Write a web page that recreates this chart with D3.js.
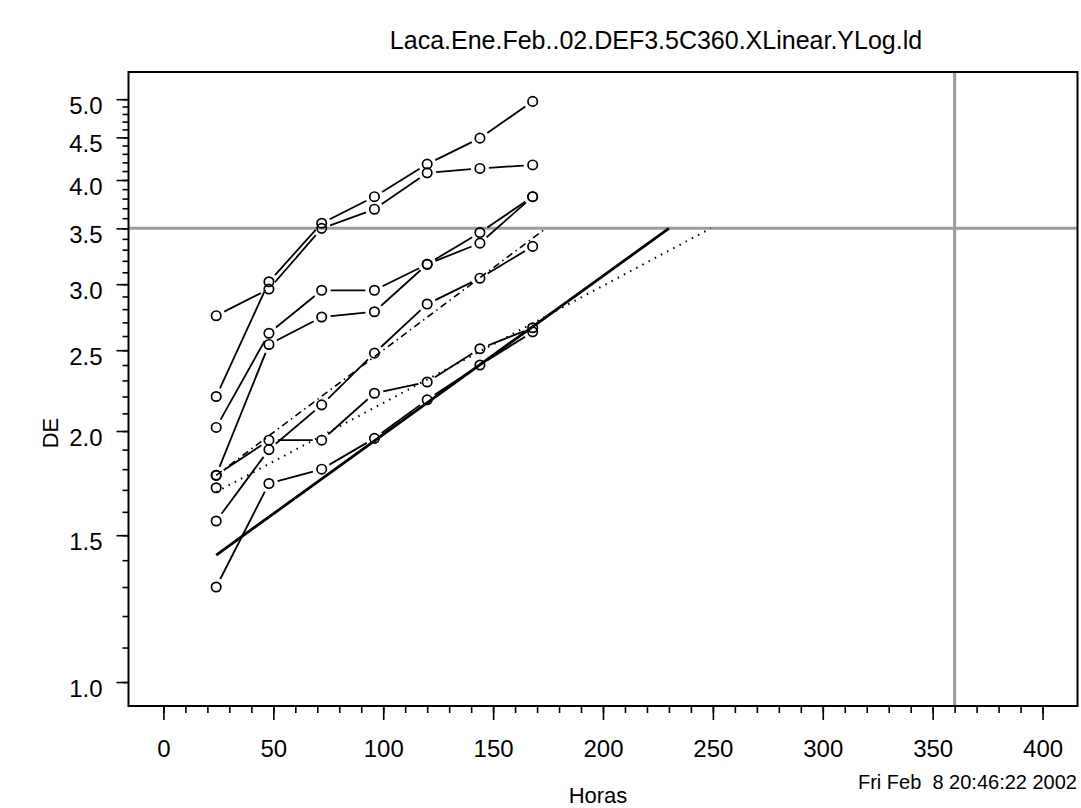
<!DOCTYPE html>
<html>
<head>
<meta charset="utf-8">
<script src="https://cdn.jsdelivr.net/npm/d3@7"></script>
<style>
  body { margin: 0; background: #fff; }
  svg { display: block; font-family: "Liberation Sans", Arial, sans-serif; }
</style>
</head>
<body>
<div id="chart"></div>
<script>
const hours = [24, 48, 72, 96, 120, 144, 168];
const serie1 = [2.20, 3.02, 3.55, 3.82, 4.18, 4.49, 4.97];
const serie2 = [2.75, 2.96, 3.50, 3.69, 4.08, 4.13, 4.17];
const serie3 = [2.02, 2.62, 2.95, 2.95, 3.17, 3.46, 3.82];
const serie4 = [1.77, 2.54, 2.74, 2.78, 3.17, 3.36, 3.82];
const serie5 = [1.56, 1.90, 2.15, 2.48, 2.84, 3.05, 3.33];
const serie6 = [1.77, 1.95, 1.95, 2.22, 2.29, 2.51, 2.66];
const serie7 = [1.30, 1.73, 1.80, 1.96, 2.18, 2.40, 2.63];
const series = [serie1, serie2, serie3, serie4, serie5, serie6, serie7];

// point with no line attached
const looseHours = [24];
const looseDE = [1.71];

// fitted lines, drawn up to the DE limit
const fitSolidHours = [24, 230];
const fitSolidDE = [1.42, 3.5];
const fitDottedHours = [24, 249];
const fitDottedDE = [1.69, 3.5];
const fitDashHours = [24, 174];
const fitDashDE = [1.77, 3.5];

const limitDE = 3.5;
const limitHours = 360;

const xMajor = d3.range(0, 401, 50);
const xMinor = d3.range(0, 401, 10);
const yMajor = [1.0, 1.5, 2.0, 2.5, 3.0, 3.5, 4.0, 4.5, 5.0];
const yMinor = d3.range(10, 51).map(v => v / 10);

const title = "Laca.Ene.Feb..02.DEF3.5C360.XLinear.YLog.ld";
const xTitle = "Horas";
const yTitle = "DE";
const stamp = "Fri Feb  8 20:46:22 2002";

const width = 1081, height = 808;
const plotLeft = 128.5, plotRight = 1077.5, plotTop = 72, plotBottom = 706;

const svg = d3.select("#chart").append("svg")
    .attr("width", width)
    .attr("height", height);

svg.append("rect").attr("width", width).attr("height", height).attr("fill", "#fff");

const x = d3.scaleLinear().domain([-15.9, 415.9]).range([plotLeft, plotRight]);
const y = d3.scaleLog().domain([0.936, 5.39]).range([plotBottom, plotTop]);

// reference lines
svg.append("line")
    .attr("x1", plotLeft).attr("x2", plotRight)
    .attr("y1", y(limitDE)).attr("y2", y(limitDE))
    .attr("stroke", "#9c9c9c").attr("stroke-width", 3);
svg.append("line")
    .attr("x1", x(limitHours)).attr("x2", x(limitHours))
    .attr("y1", plotTop).attr("y2", plotBottom)
    .attr("stroke", "#9c9c9c").attr("stroke-width", 3);

// axes
const xAxis = svg.append("g").attr("transform", `translate(0,${plotBottom})`)
    .call(d3.axisBottom(x).tickValues(xMajor).tickSize(14).tickFormat(d3.format("d")));
const xAxisMinor = svg.append("g").attr("transform", `translate(0,${plotBottom})`)
    .call(d3.axisBottom(x).tickValues(xMinor).tickSize(7).tickFormat(""));
const yAxis = svg.append("g").attr("transform", `translate(${plotLeft},0)`)
    .call(d3.axisLeft(y).tickValues(yMajor).tickSize(12).tickFormat(d3.format(".1f")));
const yAxisMinor = svg.append("g").attr("transform", `translate(${plotLeft},0)`)
    .call(d3.axisLeft(y).tickValues(yMinor).tickSize(6).tickFormat(""));

[xAxis, xAxisMinor, yAxis, yAxisMinor].forEach(g => {
    g.select(".domain").remove();
    g.selectAll(".tick line").attr("stroke", "#000").attr("stroke-width", 1.6);
});
xAxis.selectAll(".tick text")
    .attr("font-size", 24).attr("fill", "#000").attr("y", 0).attr("dy", 0)
    .attr("transform", "translate(0,51)")
    .style("font-family", "'Liberation Sans', Arial, sans-serif");
yAxis.selectAll(".tick text")
    .attr("font-size", 24).attr("fill", "#000").attr("x", -26).attr("dy", 0)
    .attr("transform", "translate(0,14)")
    .style("font-family", "'Liberation Sans', Arial, sans-serif");

// frame
svg.append("rect")
    .attr("x", plotLeft).attr("y", plotTop)
    .attr("width", plotRight - plotLeft).attr("height", plotBottom - plotTop)
    .attr("fill", "none").attr("stroke", "#000").attr("stroke-width", 2);

// fitted lines
const fitLine = d3.line().x(d => x(d[0])).y(d => y(d[1]));
const fits = [
    { h: fitSolidHours, v: fitSolidDE, w: 2.8, dash: null },
    { h: fitDottedHours, v: fitDottedDE, w: 2, dash: "1.5,5.5" },
    { h: fitDashHours, v: fitDashDE, w: 1.6, dash: "7,4,1.5,4" }
];
fits.forEach(f => {
    svg.append("path")
        .attr("d", fitLine(d3.zip(f.h, f.v)))
        .attr("fill", "none")
        .attr("stroke", "#000")
        .attr("stroke-width", f.w)
        .attr("stroke-dasharray", f.dash);
});

// series: segments stop short of the circles
const gap = 9;
const r = 4.7;
series.forEach(vals => {
    const pts = hours.map((h, i) => [x(h), y(vals[i])]);
    for (let i = 0; i < pts.length - 1; i++) {
        const [x1, y1] = pts[i], [x2, y2] = pts[i + 1];
        const len = Math.hypot(x2 - x1, y2 - y1);
        if (len <= 2 * gap) continue;
        const ux = (x2 - x1) / len, uy = (y2 - y1) / len;
        svg.append("line")
            .attr("x1", x1 + ux * gap).attr("y1", y1 + uy * gap)
            .attr("x2", x2 - ux * gap).attr("y2", y2 - uy * gap)
            .attr("stroke", "#000").attr("stroke-width", 1.8);
    }
    svg.selectAll(null)
        .data(pts)
        .enter()
        .append("circle")
        .attr("cx", d => d[0]).attr("cy", d => d[1]).attr("r", r)
        .attr("fill", "none").attr("stroke", "#000").attr("stroke-width", 1.7);
});

svg.selectAll(null)
    .data(d3.zip(looseHours, looseDE))
    .enter()
    .append("circle")
    .attr("cx", d => x(d[0])).attr("cy", d => y(d[1])).attr("r", r)
    .attr("fill", "none").attr("stroke", "#000").attr("stroke-width", 1.7);

// texts
svg.append("text")
    .attr("x", 656).attr("y", 49)
    .attr("text-anchor", "middle").attr("font-size", 25)
    .text(title);
svg.append("text")
    .attr("x", 598).attr("y", 803)
    .attr("text-anchor", "middle").attr("font-size", 22)
    .text(xTitle);
svg.append("text")
    .attr("transform", "translate(58,433) rotate(-90)")
    .attr("text-anchor", "middle").attr("font-size", 22)
    .text(yTitle);
svg.append("text")
    .attr("x", 1077).attr("y", 789)
    .attr("text-anchor", "end").attr("font-size", 20)
    .style("white-space", "pre")
    .text(stamp);
</script>
</body>
</html>
